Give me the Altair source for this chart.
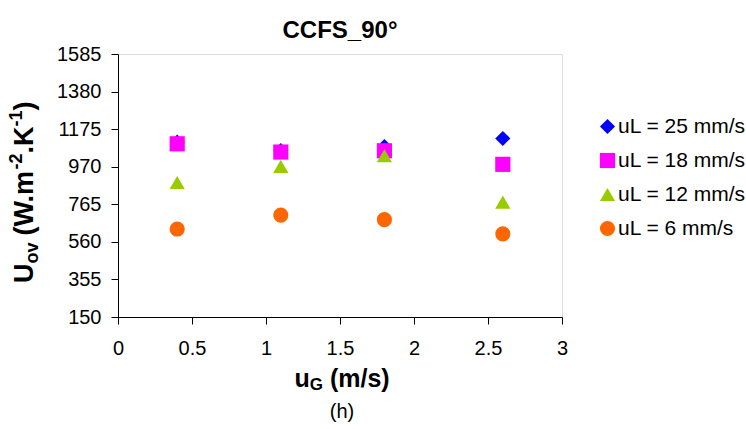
import altair as alt
import pandas as pd

# ---------------- data ----------------
x_vals = [0.4, 1.1, 1.8, 2.6]
series = ["uL = 25 mm/s", "uL = 18 mm/s", "uL = 12 mm/s", "uL = 6 mm/s"]
u25 = [1104, 1058, 1080, 1124]
u18 = [1095, 1050, 1057, 983]
u12 = [884, 972, 1030, 777]
u6 = [630, 706, 681, 604]
colors = ["#0000FF", "#FF00FF", "#99CC00", "#FF6600"]
shapes = ["diamond", "square", "triangle-up", "circle"]
y_ticks = [150, 355, 560, 765, 970, 1175, 1380, 1585]
x_ticks = [0, 0.5, 1, 1.5, 2, 2.5, 3]
chart_title = "CCFS_90°"
caption = "(h)"

rows = []
for s, vals in zip(series, [u25, u18, u12, u6]):
    for xv, yv in zip(x_vals, vals):
        rows.append({"series": s, "ug": xv, "u": yv})
df = pd.DataFrame(rows)

FONT = "Liberation Sans"
W, H = 444, 263

leg = alt.Legend(title=None, orient="none", legendX=479, legendY=62,
                 labelFontSize=21, labelFont=FONT, labelColor="black",
                 symbolSize=225, symbolStrokeWidth=0, rowPadding=12,
                 labelOffset=0, labelLimit=400, padding=0)

points = alt.Chart(df).mark_point(filled=True, opacity=1, strokeWidth=0).encode(
    x=alt.X("ug:Q", scale=alt.Scale(domain=[0, 3], nice=False, zero=False),
            axis=alt.Axis(values=x_ticks, title=None, grid=False, labelExpr="'' + datum.value",
                          labelFontSize=20, labelFont=FONT, labelColor="black",
                          tickColor="black", tickSize=7, labelPadding=14,
                          domainColor="black", labelFlush=False)),
    y=alt.Y("u:Q", scale=alt.Scale(domain=[150, 1585], nice=False, zero=False),
            axis=alt.Axis(values=y_ticks, title=None, grid=False, labelExpr="'' + datum.value",
                          labelFontSize=20, labelFont=FONT, labelColor="black",
                          tickColor="black", tickSize=7, labelPadding=10,
                          domainColor="black", labelFlush=False)),
    color=alt.Color("series:N", scale=alt.Scale(domain=series, range=colors), legend=leg),
    shape=alt.Shape("series:N", scale=alt.Scale(domain=series, range=shapes), legend=leg),
    size=alt.Size("series:N", scale=alt.Scale(domain=series, range=[230, 230, 280, 230]),
                  legend=None),
)

# ---- helper for text pieces ----
WID = {"U": .722, "o": .611, "v": .556, " ": .278, "(": .333, "W": .944, ".": .278,
       "m": .889, "-": .333, "2": .556, "K": .722, "1": .556, ")": .333, "u": .611,
       "G": .778, "/": .278, "s": .556}


def tw(t, size):
    return sum(WID.get(c, .6) for c in t) * size


def txt(t, x, y, size, bold=True, angle=0, align="left", baseline="alphabetic"):
    kw = dict(fontSize=size, font=FONT, fontWeight="bold" if bold else "normal",
              align=align, baseline=baseline, color="black")
    if angle:
        kw["angle"] = angle
    return alt.Chart(pd.DataFrame({"label": [t]})).mark_text(**kw).encode(
        x=alt.value(x), y=alt.value(y), text="label:N")


layers = [points]
# title
layers.append(txt(chart_title, W / 2, -16, 24, align="center"))
# caption
layers.append(txt(caption, 224, 364, 20, bold=False, align="center"))

# x title: u_G (m/s)   -- (text, size, baseline shift, gap before)
XF, XS = 25, 17
xt_pieces = [("u", XF, 0, 0), ("G", XS, 3, 0), ("(m/s)", XF, 0, 7)]
total = sum(tw(t, s) + g for t, s, _, g in xt_pieces)
cx = 222 - total / 2 + 2
for t, s, dy, g in xt_pieces:
    cx += g
    layers.append(txt(t, cx, 333 + dy, s))
    cx += tw(t, s)

# y title: U_ov (W.m^-2.K^-1), rotated
YF, YS = 27, 18
yt_pieces = [("U", YF, 0, 0), ("ov", YS, 5, 0), ("(W.m", YF, 0, 7), ("-2", YS, -11, 0),
             (".K", YF, 0, 0), ("-1", YS, -11, 0), (")", YF, 0, 0)]
cy = 229
for t, s, dx, g in yt_pieces:
    cy -= g
    layers.append(txt(t, -85 + dx, cy, s, angle=270))
    cy -= tw(t, s)

chart = alt.layer(*layers).properties(
    width=W, height=H,
    autosize=alt.AutoSizeParams(type="none"),
    padding={"left": 118, "top": 54, "right": 184, "bottom": 112},
).configure_view(stroke="black", strokeWidth=1).configure(background="white")

chart.save("out.html", embed_options={"renderer": "svg", "actions": False})
